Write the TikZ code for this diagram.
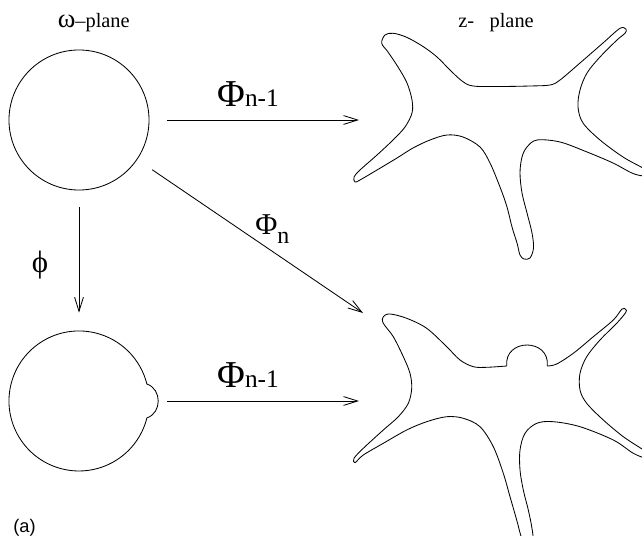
\documentclass[tikz,border=0pt]{standalone}
\usepackage{fontspec}
\setmainfont{Liberation Serif}
\newfontfamily\labsans{Liberation Sans}
\usetikzlibrary{arrows.meta, positioning, calc}
\tikzset{
  disk/.style    = {circle, draw=black, line width=0.6pt, inner sep=0pt,
                    minimum size=3.5cm},
  ghost/.style   = {circle, inner sep=0pt, minimum size=3.5cm},
  outline/.style = {draw=black, line width=0.6pt},
  maparrow/.style = {-{Straight Barb[length=3.5mm,width=2.2mm]},
                    draw=black, line width=0.6pt},
  plabel/.style  = {inner sep=0pt, font=\fontsize{14.5}{16}\selectfont},
  maplab/.style  = {anchor=base west, inner sep=0pt},
}
\newcommand{\bigPhi}[1]{{\fontsize{27}{30}\selectfont Φ}{\fontsize{18}{20}\selectfont #1}}

\begin{document}
\begin{tikzpicture}[x=0.025cm, y=-0.025cm]
  \useasboundingbox (0,0) rectangle (642,536);
  \clip (0,0) rectangle (642,536);

  % omega plane
  \node[disk] (w0) at (79,120) {};
  \node[ghost] (w1) at (79,401) {};
  \draw[outline] (146.9,417.9) arc[start angle=14, end angle=346, radius=70]
        .. controls (162,389) and (162,413) .. cycle;

  % z plane, original and perturbed
  \draw[outline] plot[smooth cycle, tension=0.55] coordinates {
    (381.7,43.3) (385,35) (393.3,33.3) (406.7,37.3) (423.3,46.7) (437,57)
    (450,70) (462,81) (473,86) (500,86.5) (530,86) (550,85) (560,80)
    (580,63) (603,43) (620,28.3) (626,29.3) (625,33.3) (617,40) (600,57)
    (587,73) (580,90) (578,107) (583,123) (600,140) (623,157) (642,167.5)
    (649,172) (646,176) (633,173.5) (613,163) (587,152) (560,142) (537,140)
    (527,147) (522,157) (520,173) (522,193) (527,213) (532,233) (533.5,248)
    (530,258) (524,259) (520,255) (517,243) (512,227) (507,207) (500,187)
    (490,163) (480,147) (463,137) (447,135) (430,140) (413,148) (397,158)
    (377,170) (360,180) (355,182) (354,177) (360,170) (377,155) (393,140)
    (405,127) (412,113) (412,100) (407,83) (398,67) (388,52)};
  \draw[outline] (506.7,366) .. controls (504,338) and (550,338) .. (547.3,366)
    plot[smooth, tension=0.55] coordinates {
    (547.3,366) (556.7,364) (573.3,353.3) (593.3,336.7) (613.3,320)
    (622,309) (625.7,309.5) (625.7,312.5) (616.7,323.3) (600,340)
    (586.7,356.7) (580,373.3) (580,390) (586.7,403.3) (603.3,420)
    (623.3,436.7) (642,449) (649,454) (646,458) (633.3,453.3) (613.3,440)
    (580,426.7) (553.3,421.7) (536.7,423.3) (525,433.3) (520,450) (520,470)
    (523.3,490) (528.3,510) (531.7,526.7) (533,540) (528,546) (521.7,538)
    (516.7,520) (510,496.7) (503.3,473.3) (493.3,446.7) (480,426.7)
    (463.3,418.3) (446.7,416.7) (426.7,421.7) (406.7,430) (383.3,443.3)
    (363.3,455) (355,462.7) (354,458.3) (363.3,448.3) (383.3,430)
    (398.3,416.7) (408.3,403.3) (411.7,388.3) (410,373.3) (403.3,356.7)
    (393.3,336.7) (383.3,323.3) (383.3,316.7) (390,314) (406.7,318.3)
    (426.7,328.3) (446.7,346.7) (460,360) (473.3,366.7) (486.7,367.3)
    (506.7,366)};

  \coordinate (z0in) at (359,120);
  \coordinate (z1d) at (363,313);
  \coordinate (z1in) at (359,401);

  % maps
  \draw[maparrow, shorten <=4.5mm] (w0) -- (z0in);
  \draw[maparrow, shorten <=4.5mm] (w0) -- (z1d);
  \draw[maparrow, shorten <=4.25mm, shorten >=4.5mm] (w0) -- (w1);
  \draw[maparrow, shorten <=4.5mm] (w1) -- (z1in);

  \node[plabel, anchor=base east] (wlab) at (130,28) {{\fontsize{19}{20}\selectfont ω}–plane};
  \node[plabel, anchor=base west] (zlab) at (458,28) {z-\hspace{11pt}plane};
  \node[maplab] (ftop) at (217,107) {\bigPhi{n-1}};
  \node[maplab] (fbot) at (217,387) {\bigPhi{n-1}};
  \node[maplab] (fdiag) at (255,235) {{\fontsize{21.5}{24}\selectfont Φ}\raisebox{-5.7pt}{\fontsize{17}{19}\selectfont n}};
  \node[anchor=center, inner sep=0pt] (phi) at (40,265) {\fontsize{22}{24}\selectfont ϕ};
  \node[maplab, font=\labsans\fontsize{13}{15}\selectfont] (tag) at (13,532) {(a)};
\end{tikzpicture}
\end{document}
